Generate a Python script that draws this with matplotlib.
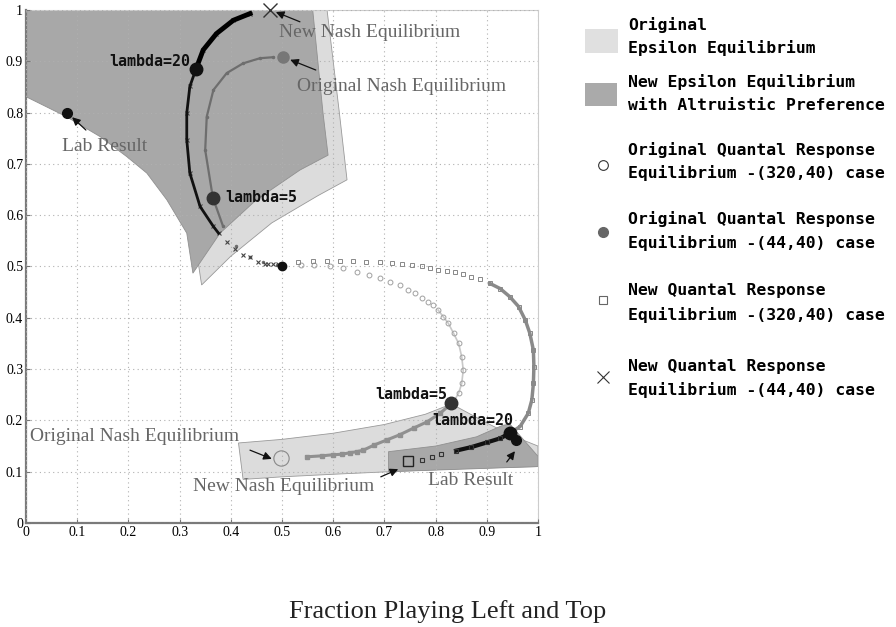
import matplotlib
matplotlib.use("Agg")
import matplotlib.pyplot as plt
from matplotlib.patches import Rectangle
from matplotlib.lines import Line2D

# epsilon equilibrium regions (boundary points)
orig_eps_top_x = [0.0, 0.588, 0.60, 0.612, 0.627, 0.57, 0.48, 0.40, 0.343, 0.336, 0.32, 0.28, 0.2, 0.0]
orig_eps_top_y = [1.0, 1.0, 0.9, 0.8, 0.669, 0.638, 0.585, 0.52, 0.464, 0.51, 0.6, 0.7, 0.8, 0.95]
new_eps_top_x = [0.0, 0.56, 0.57, 0.58, 0.59, 0.535, 0.45, 0.379, 0.326, 0.314, 0.275, 0.236, 0.197, 0.145, 0.079, 0.0]
new_eps_top_y = [1.0, 1.0, 0.9, 0.8, 0.717, 0.688, 0.63, 0.565, 0.487, 0.565, 0.63, 0.682, 0.714, 0.753, 0.792, 0.831]
orig_eps_bot_x = [0.415, 0.5, 0.6, 0.7, 0.78, 0.831, 0.9, 0.95, 1.0, 1.0, 0.85, 0.71, 0.6, 0.5, 0.424]
orig_eps_bot_y = [0.156, 0.163, 0.175, 0.192, 0.212, 0.232, 0.195, 0.17, 0.15, 0.11, 0.106, 0.1, 0.095, 0.09, 0.085]
new_eps_bot_x = [0.708, 0.8, 0.88, 0.93, 0.945, 1.0, 1.0, 0.708]
new_eps_bot_y = [0.139, 0.15, 0.168, 0.19, 0.193, 0.13, 0.11, 0.10]

# original QRE (320,40): lambda 0 -> 5, then lambda 5 -> Nash
oqre320_up_x = [0.537, 0.5625, 0.594, 0.62, 0.646, 0.669, 0.691, 0.711, 0.73, 0.747, 0.76, 0.773, 0.786,
                0.795, 0.805, 0.815, 0.825, 0.835, 0.845, 0.851, 0.854, 0.851, 0.845, 0.835]
oqre320_up_y = [0.503, 0.502, 0.5, 0.497, 0.49, 0.483, 0.477, 0.47, 0.464, 0.454, 0.448, 0.438, 0.431,
                0.425, 0.415, 0.402, 0.389, 0.37, 0.35, 0.324, 0.298, 0.272, 0.253, 0.236]
oqre320_low_x = [0.831, 0.809, 0.783, 0.757, 0.73, 0.705, 0.68, 0.659, 0.646, 0.633, 0.617, 0.599, 0.579, 0.548]
oqre320_low_y = [0.233, 0.214, 0.197, 0.185, 0.172, 0.162, 0.152, 0.142, 0.139, 0.137, 0.134, 0.133, 0.131, 0.129]

# new QRE (320,40)
nqre320_up_x = [0.532, 0.56, 0.588, 0.613, 0.639, 0.665, 0.691, 0.714, 0.734, 0.753, 0.773, 0.789, 0.805, 0.822,
                0.838, 0.854, 0.87, 0.887, 0.906, 0.926, 0.945, 0.962, 0.975, 0.984, 0.991, 0.992, 0.991, 0.988,
                0.981, 0.965, 0.945]
nqre320_up_y = [0.509, 0.511, 0.511, 0.511, 0.511, 0.509, 0.508, 0.506, 0.505, 0.503, 0.501, 0.498, 0.494, 0.492,
                0.489, 0.485, 0.48, 0.475, 0.467, 0.457, 0.441, 0.422, 0.396, 0.37, 0.337, 0.305, 0.272, 0.24,
                0.214, 0.188, 0.175]
nqre320_low_x = [0.945, 0.926, 0.9, 0.87, 0.84, 0.81, 0.792, 0.773]
nqre320_low_y = [0.175, 0.165, 0.157, 0.148, 0.141, 0.134, 0.128, 0.122]

# original QRE (44,40)
oqre44_x = [0.49, 0.463, 0.4375, 0.411, 0.385, 0.365, 0.35, 0.353, 0.366, 0.392, 0.424, 0.457, 0.483]
oqre44_y = [0.503, 0.509, 0.519, 0.539, 0.578, 0.634, 0.727, 0.792, 0.844, 0.877, 0.896, 0.906, 0.908]

# new QRE (44,40)
nqre44_x = [0.493, 0.483, 0.473, 0.467, 0.454, 0.4375, 0.424, 0.408, 0.392, 0.376, 0.366, 0.34, 0.32, 0.314,
            0.314, 0.32, 0.332, 0.346, 0.372, 0.405, 0.4375]
nqre44_y = [0.504, 0.505, 0.505, 0.504, 0.509, 0.518, 0.522, 0.535, 0.548, 0.565, 0.578, 0.617, 0.682, 0.747,
            0.799, 0.851, 0.885, 0.922, 0.954, 0.98, 0.993]

lab_x = [0.081, 0.958]
lab_y = [0.80, 0.162]
lam5_x = [0.365, 0.831]
lam5_y = [0.634, 0.233]
lam20_x = [0.332, 0.945]
lam20_y = [0.885, 0.175]

legend_lines = [("Original", "Epsilon Equilibrium"),
                ("New Epsilon Equilibrium", "with Altruistic Preference"),
                ("Original Quantal Response", "Equilibrium -(320,40) case"),
                ("Original Quantal Response", "Equilibrium -(44,40) case"),
                ("New Quantal Response", "Equilibrium -(320,40) case"),
                ("New Quantal Response", "Equilibrium -(44,40) case")]

LIGHT = "#dcdcdc"
DARK = "#a8a8a8"
SERIF = ["Liberation Serif", "DejaVu Serif"]
MONO = "DejaVu Sans Mono"

fig = plt.figure(figsize=(8.96, 6.27), dpi=100)
ax = fig.add_axes([26 / 896, 1 - 523 / 627, 512 / 896, 513 / 627])

ax.fill(orig_eps_top_x, orig_eps_top_y, facecolor=LIGHT, edgecolor="#999999", lw=0.6, zorder=1)
ax.fill(new_eps_top_x, new_eps_top_y, facecolor=DARK, edgecolor="#909090", lw=0.6, zorder=2)
ax.fill(orig_eps_bot_x, orig_eps_bot_y, facecolor=LIGHT, edgecolor="#999999", lw=0.6, zorder=1)
ax.fill(new_eps_bot_x, new_eps_bot_y, facecolor=DARK, edgecolor="#909090", lw=0.6, zorder=2)

ax.grid(True, color="#b0b0b0", linestyle=(0, (1, 3)), lw=0.8)
ax.set_axisbelow(False)

# original QRE (320,40)
ax.plot(oqre320_up_x[14:], oqre320_up_y[14:], color="#c8c8c8", lw=1.2, zorder=3)
ax.plot(oqre320_up_x, oqre320_up_y, "o", mfc="none", mec="#a0a0a0", ms=3.5, mew=0.7, zorder=4)
ax.plot(oqre320_low_x, oqre320_low_y, color="#909090", lw=2.2, zorder=3)
ax.plot(oqre320_low_x, oqre320_low_y, "s", color="#909090", ms=3, zorder=4)

# new QRE (320,40)
ax.plot(nqre320_up_x[18:], nqre320_up_y[18:], color="#8a8a8a", lw=2.5, zorder=3)
ax.plot(nqre320_up_x, nqre320_up_y, "s", mfc="none", mec="#888888", ms=3.5, mew=0.7, zorder=4)
ax.plot(nqre320_low_x[:5], nqre320_low_y[:5], color="#111111", lw=3, zorder=4)
ax.plot(nqre320_low_x, nqre320_low_y, "s", mfc="none", mec="#333333", ms=3.5, mew=0.8, zorder=4)

# original QRE (44,40)
ax.plot(oqre44_x[4:], oqre44_y[4:], color="#6e6e6e", lw=1.6, zorder=3)
ax.plot(oqre44_x, oqre44_y, ".", color="#6e6e6e", ms=3, zorder=4)

# new QRE (44,40)
ax.plot(nqre44_x, nqre44_y, "x", color="#444444", ms=3, mew=0.8, zorder=4)
ax.plot(nqre44_x[9:17], nqre44_y[9:17], color="#111111", lw=2, zorder=4)
ax.plot(nqre44_x[16:], nqre44_y[16:], color="#000000", lw=3.5, zorder=4)

# equilibria
ax.plot([0.5], [0.5], "o", color="#111111", ms=6, zorder=6)
ax.plot([0.499], [0.126], "o", mfc="none", mec="#888888", ms=11, mew=0.8, zorder=6)
ax.plot([0.747], [0.12], "s", mfc="none", mec="#222222", ms=7, mew=1, zorder=6)
ax.plot([0.477], [1.0], "x", color="#333333", ms=10, mew=1, zorder=6, clip_on=False)
ax.plot([0.501], [0.909], "o", color="#777777", ms=8, zorder=6)

ax.plot(lam5_x, lam5_y, "o", color="#333333", ms=9, zorder=7)
ax.plot(lam20_x, lam20_y, "o", color="#111111", ms=9, zorder=7)
ax.plot(lab_x, lab_y, "o", color="#111111", ms=7, zorder=7)

# labels
mono = dict(family=MONO, fontweight="bold", fontsize=10.8, color="#111111", zorder=8)
ax.text(0.32, 0.9, "lambda=20", ha="right", va="center", **mono)
ax.text(0.389, 0.634, "lambda=5", ha="left", va="center", **mono)
ax.text(0.682, 0.25, "lambda=5", ha="left", va="center", **mono)
ax.text(0.793, 0.199, "lambda=20", ha="left", va="center", **mono)

arrow = dict(arrowstyle="-|>", color="#111111", lw=0.9, mutation_scale=12, shrinkA=0, shrinkB=0)
serif = dict(family=SERIF, fontsize=14, color="#666666", va="center", ha="left", zorder=8)
ax.annotate("", xy=(0.488, 0.996), xytext=(0.535, 0.977), arrowprops=arrow, zorder=8)
ax.text(0.494, 0.957, "New Nash Equilibrium", **serif)
ax.annotate("", xy=(0.516, 0.903), xytext=(0.566, 0.883), arrowprops=arrow, zorder=8)
ax.text(0.529, 0.85, "Original Nash Equilibrium", **serif)
ax.annotate("", xy=(0.09, 0.791), xytext=(0.117, 0.766), arrowprops=arrow, zorder=8)
ax.text(0.07, 0.733, "Lab Result", **serif)
ax.annotate("", xy=(0.48, 0.125), xytext=(0.4375, 0.142), arrowprops=arrow, zorder=8)
ax.text(0.008, 0.168, "Original Nash Equilibrium", **serif)
ax.annotate("", xy=(0.727, 0.105), xytext=(0.693, 0.09), arrowprops=arrow, zorder=8)
ax.text(0.326, 0.072, "New Nash Equilibrium", **serif)
ax.annotate("", xy=(0.955, 0.14), xytext=(0.939, 0.119), arrowprops=arrow, zorder=8)
ax.text(0.785, 0.082, "Lab Result", **serif)

ax.set_xlim(0, 1)
ax.set_ylim(0, 1)
ticks = [0, 0.1, 0.2, 0.3, 0.4, 0.5, 0.6, 0.7, 0.8, 0.9, 1]
tick_labels = ["0", "0.1", "0.2", "0.3", "0.4", "0.5", "0.6", "0.7", "0.8", "0.9", "1"]
ax.set_xticks(ticks)
ax.set_xticklabels(tick_labels, family=SERIF, fontsize=10)
ax.set_yticks(ticks)
ax.set_yticklabels(tick_labels, family=SERIF, fontsize=10)
ax.tick_params(direction="in", length=3, color="#777777", pad=2)
for side in ["left", "bottom"]:
    ax.spines[side].set_color("#7a7a7a")
    ax.spines[side].set_linewidth(1.6)
for side in ["top", "right"]:
    ax.spines[side].set_color("#cccccc")
    ax.spines[side].set_linewidth(0.8)

fig.text(448 / 896, 1 - 612 / 627, "Fraction Playing Left and Top", family=SERIF, fontsize=19,
         ha="center", va="center", color="#222222")

# legend drawn by hand at the right
def fy(py):
    return 1 - py / 627

fig.patches.append(Rectangle((585 / 896, fy(53)), 33 / 896, 24 / 627, facecolor="#e0e0e0",
                             edgecolor="none", transform=fig.transFigure))
fig.patches.append(Rectangle((585 / 896, fy(106)), 32 / 896, 23 / 627, facecolor="#aaaaaa",
                             edgecolor="none", transform=fig.transFigure))
fig.lines.append(Line2D([603 / 896], [fy(165)], marker="o", mfc="none", mec="#333333", ms=7, mew=0.8,
                        transform=fig.transFigure))
fig.lines.append(Line2D([603 / 896], [fy(232)], marker="o", color="#666666", ms=7,
                        transform=fig.transFigure))
fig.lines.append(Line2D([603 / 896], [fy(300)], marker="s", mfc="none", mec="#666666", ms=6, mew=0.8,
                        transform=fig.transFigure))
fig.lines.append(Line2D([603 / 896], [fy(377)], marker="x", color="#333333", ms=8, mew=0.8,
                        transform=fig.transFigure))

line_y = [(25, 48), (82, 106), (150, 173), (219, 243), (291, 315), (366, 390)]
for (first, second), (y1, y2) in zip(legend_lines, line_y):
    fig.text(628 / 896, fy(y1), first, family=MONO, fontweight="bold", fontsize=11.8, va="center", ha="left")
    fig.text(628 / 896, fy(y2), second, family=MONO, fontweight="bold", fontsize=11.8, va="center", ha="left")

fig.savefig("out.png", dpi=100)
